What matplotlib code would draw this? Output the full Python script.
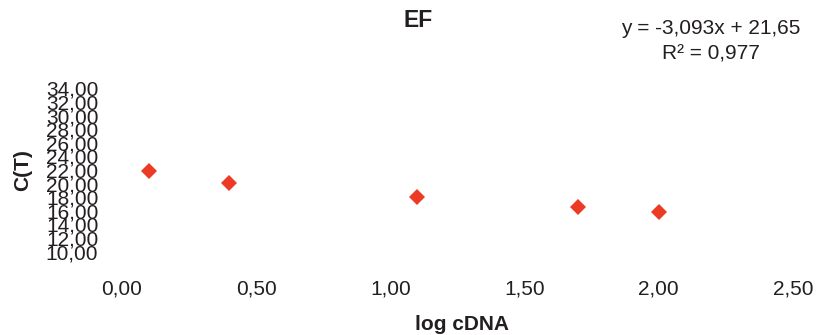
import matplotlib.pyplot as plt
from matplotlib.ticker import FuncFormatter

plt.rcParams['font.family'] = ['Liberation Sans', 'DejaVu Sans']

# standard curve EF
log_cdna = [0.1, 0.4, 1.1, 1.7, 2.0]
ct = [21.9, 20.05, 18.08, 16.52, 15.79]
x_ticks = [0.0, 0.5, 1.0, 1.5, 2.0, 2.5]
y_ticks = list(range(10, 36, 2))
eq_text = "y = -3,093x + 21,65\nR² = 0,977"

txt = '#231F20'
comma = FuncFormatter(lambda v, p: f"{v:.2f}".replace('.', ','))

fig = plt.figure(figsize=(8.22, 3.35), dpi=100)
ax = fig.add_axes([0.1484, 0.2487, 0.8163, 0.4878])

ax.plot(log_cdna, ct, linestyle='none', marker='D', markersize=8.5,
        markeredgewidth=0, color='#ED3A25')

ax.set_xlim(0, 2.5)
ax.set_ylim(10, 34)
ax.set_xticks(x_ticks)
ax.set_yticks(y_ticks)
ax.xaxis.set_major_formatter(comma)
ax.yaxis.set_major_formatter(comma)
ax.tick_params(axis='both', length=0, labelsize=15, colors=txt)
ax.tick_params(axis='x', pad=20)
ax.tick_params(axis='y', pad=17)
for s in ax.spines.values():
    s.set_visible(False)

ax.set_xlabel('log cDNA', fontsize=15, fontweight='bold', color=txt, labelpad=12)
ax.xaxis.label.set_x(0.507)
ax.set_ylabel('C(T)', fontsize=15, fontweight='bold', color=txt, labelpad=10)

fig.text(0.509, 0.938, 'EF', fontsize=16.5, fontweight='bold', color=txt,
         ha='center', va='center')
fig.text(0.865, 0.877, eq_text, fontsize=15, color=txt, ha='center',
         va='center', linespacing=1.4)

fig.savefig('out.png', dpi=100, facecolor='white')
